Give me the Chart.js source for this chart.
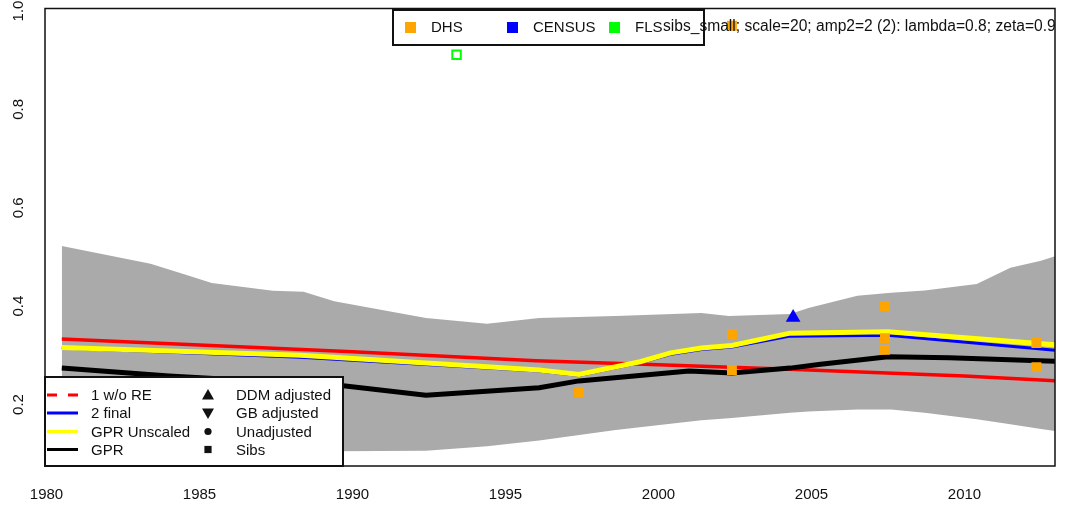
<!DOCTYPE html>
<html>
<head>
<meta charset="utf-8">
<script src="https://cdn.jsdelivr.net/npm/chart.js@4.4.0/dist/chart.umd.min.js"></script>
<style>
  html, body { margin: 0; padding: 0; background: #fff; }
  #wrap { width: 1066px; height: 508px; }
</style>
</head>
<body>
<div id="wrap"><canvas id="chart" width="1066" height="508"></canvas></div>
<script>
// values
const xTicks = [1980, 1985, 1990, 1995, 2000, 2005, 2010];
const yTicks = [0.2, 0.4, 0.6, 0.8, 1.0];

// uncertainty band
const bandYears = [1980.5, 1983.4, 1984.5, 1985.4, 1987.4, 1988.4, 1989.4, 1992.4, 1994.4, 1996.1, 1998.6,
  2001.4, 2002.3, 2004.3, 2004.9, 2006.5, 2007.6, 2008.7, 2010.4, 2011.5, 2012.5, 2013];
const bandUpper = [0.522, 0.486, 0.465, 0.447, 0.431, 0.429, 0.410, 0.376, 0.364, 0.376, 0.380,
  0.386, 0.380, 0.384, 0.396, 0.421, 0.427, 0.432, 0.445, 0.478, 0.492, 0.502];
const bandLower = [0.110, 0.108, 0.107, 0.106, 0.105, 0.105, 0.105, 0.106, 0.115, 0.127, 0.148,
  0.168, 0.172, 0.183, 0.186, 0.190, 0.190, 0.183, 0.170, 0.160, 0.150, 0.146];

// 1 w/o RE
const redYears = [1980.5, 1985, 1990, 1996, 2000, 2004.5, 2010, 2013];
const redVals = [0.333, 0.321, 0.307, 0.289, 0.281, 0.271, 0.258, 0.248];

// 2 final and GPR Unscaled
const gprYears = [1980.5, 1988.3, 1996.1, 1997.4, 1999.4, 2000.4, 2001.4, 2002.4, 2004.3, 2007.5, 2013];
const finalVals = [0.315, 0.296, 0.268, 0.259, 0.285, 0.302, 0.312, 0.317, 0.339, 0.341, 0.310];
const unscaledVals = [0.316, 0.300, 0.270, 0.261, 0.287, 0.305, 0.315, 0.320, 0.345, 0.348, 0.321];

// GPR
const blackYears = [1980.5, 1984, 1989.7, 1992.4, 1996.1, 1997.4, 2001, 2002.4, 2004.3, 2005.3, 2007.5, 2009.5, 2013];
const blackVals = [0.274, 0.258, 0.238, 0.219, 0.234, 0.248, 0.268, 0.264, 0.274, 0.282, 0.297, 0.295, 0.288];

// survey points
const dhsYears = [1997.4, 2002.4, 2002.4, 2002.4, 2007.4, 2007.4, 2007.4, 2012.35, 2012.35];
const dhsVals = [0.225, 0.343, 0.270, 0.970, 0.400, 0.335, 0.311, 0.325, 0.276];
const censusYears = [2004.4];
const censusVals = [0.377];
const flsYears = [1993.4];
const flsVals = [0.911];

const topLegend = ['DHS', 'CENSUS', 'FLS'];
const topLegendColors = ['#FFA500', '#0000FF', '#00FF00'];
const noteText = 'sibs_small; scale=20; amp2=2 (2): lambda=0.8; zeta=0.99';
const lineLegend = ['1 w/o RE', '2 final', 'GPR Unscaled', 'GPR'];
const lineLegendColors = ['#FF0000', '#0000FF', '#FFFF00', '#000000'];
const symbolLegend = ['DDM adjusted', 'GB adjusted', 'Unadjusted', 'Sibs'];

function pts(xs, ys) {
  return xs.map((x, i) => ({ x: x, y: ys[i] }));
}

const FAMILY = '"Liberation Sans", Arial, sans-serif';
const FONT = '15px ' + FAMILY;

function drawSymbol(ctx, kind, x, y) {
  ctx.beginPath();
  if (kind === 0) {        // triangle up
    ctx.moveTo(x, y - 6); ctx.lineTo(x + 6, y + 4.5); ctx.lineTo(x - 6, y + 4.5);
  } else if (kind === 1) { // triangle down
    ctx.moveTo(x, y + 6); ctx.lineTo(x + 6, y - 4.5); ctx.lineTo(x - 6, y - 4.5);
  } else if (kind === 2) { // circle
    ctx.arc(x, y, 3.6, 0, Math.PI * 2);
  } else {                 // square
    ctx.rect(x - 3.6, y - 3.6, 7.2, 7.2);
  }
  ctx.closePath();
  ctx.fill();
}

const decor = {
  id: 'decor',
  afterDatasetsDraw(chart) {
    const { ctx, chartArea: a, scales } = chart;
    ctx.save();
    ctx.font = FONT;
    ctx.fillStyle = '#111';

    // rotated y labels
    ctx.textAlign = 'center';
    ctx.textBaseline = 'middle';
    yTicks.forEach(v => {
      const py = scales.y.getPixelForValue(v);
      ctx.save();
      ctx.translate(19, py);
      ctx.rotate(-Math.PI / 2);
      ctx.fillText(v.toFixed(1), 0, 0);
      ctx.restore();
    });

    // plot box
    ctx.strokeStyle = '#111';
    ctx.lineWidth = 1.5;
    ctx.strokeRect(a.left, a.top, a.right - a.left, a.bottom - a.top);

    // top legend
    ctx.fillStyle = '#fff';
    ctx.fillRect(393, 10, 311, 35);
    ctx.lineWidth = 2;
    ctx.strokeRect(393, 10, 311, 35);
    const topX = [405, 507, 609];
    ctx.textAlign = 'left';
    topLegend.forEach((lab, i) => {
      ctx.fillStyle = topLegendColors[i];
      ctx.fillRect(topX[i], 22, 11, 11);
      ctx.fillStyle = '#111';
      ctx.fillText(lab, topX[i] + 26, 28);
    });

    // note text, clipped at the plot box
    ctx.save();
    ctx.beginPath();
    ctx.rect(a.left, a.top, a.right - a.left, a.bottom - a.top);
    ctx.clip();
    ctx.font = '15.6px ' + FAMILY;
    ctx.fillText(noteText, 663, 27);
    ctx.restore();

    // bottom-left legend
    ctx.fillStyle = '#fff';
    ctx.fillRect(a.left, 377, 298, a.bottom - 377);
    ctx.strokeStyle = '#111';
    ctx.lineWidth = 2;
    ctx.strokeRect(a.left, 377, 298, a.bottom - 377);
    const rows = [395, 413, 431.5, 449.5];
    lineLegend.forEach((lab, i) => {
      ctx.strokeStyle = lineLegendColors[i];
      ctx.lineWidth = 3;
      ctx.setLineDash(i === 0 ? [10, 11] : []);
      ctx.beginPath();
      ctx.moveTo(47, rows[i]);
      ctx.lineTo(78, rows[i]);
      ctx.stroke();
      ctx.setLineDash([]);
      ctx.fillStyle = '#111';
      ctx.fillText(lab, 91, rows[i] + 1);
      drawSymbol(ctx, i, 208, rows[i]);
      ctx.fillText(symbolLegend[i], 236, rows[i] + 1);
    });
    ctx.restore();
  }
};

const lineBase = { pointRadius: 0, tension: 0, fill: false, clip: 0 };

new Chart(document.getElementById('chart'), {
  type: 'line',
  data: {
    datasets: [
      { ...lineBase, label: 'DHS', data: pts(dhsYears, dhsVals), showLine: false,
        pointStyle: 'rect', pointRadius: 7, backgroundColor: '#FFA500', borderColor: '#FFA500', borderWidth: 0 },
      { ...lineBase, label: 'CENSUS', data: pts(censusYears, censusVals), showLine: false,
        pointStyle: 'triangle', pointRadius: 8.5, backgroundColor: '#0000FF', borderColor: '#0000FF', borderWidth: 0 },
      { ...lineBase, label: 'FLS', data: pts(flsYears, flsVals), showLine: false,
        pointStyle: 'rect', pointRadius: 6, backgroundColor: '#fff', borderColor: '#00FF00', borderWidth: 2 },
      { ...lineBase, label: 'GPR', data: pts(blackYears, blackVals), borderColor: '#000', borderWidth: 5 },
      { ...lineBase, label: 'GPR Unscaled', data: pts(gprYears, unscaledVals), borderColor: '#FFFF00', borderWidth: 5 },
      { ...lineBase, label: '2 final', data: pts(gprYears, finalVals), borderColor: '#0000FF', borderWidth: 3 },
      { ...lineBase, label: '1 w/o RE', data: pts(redYears, redVals), borderColor: '#FF0000', borderWidth: 3.5 },
      { ...lineBase, label: 'upper', data: pts(bandYears, bandUpper), borderColor: 'rgba(0,0,0,0)',
        borderWidth: 1, fill: '+1', backgroundColor: '#AAAAAA' },
      { ...lineBase, label: 'lower', data: pts(bandYears, bandLower), borderColor: 'rgba(0,0,0,0)', borderWidth: 1 }
    ]
  },
  options: {
    responsive: false,
    animation: false,
    devicePixelRatio: 1,
    layout: { padding: { top: 8, right: 11, left: 0, bottom: 0 } },
    plugins: { legend: { display: false }, tooltip: { enabled: false } },
    scales: {
      x: {
        type: 'linear', min: 1979.951, max: 2012.958,
        grid: { display: false, drawTicks: false }, border: { display: false },
        afterBuildTicks: s => { s.ticks = xTicks.map(v => ({ value: v })); },
        afterFit: s => { s.height = 42; },
        ticks: { padding: 20, color: '#111', font: { size: 15, family: FAMILY },
          callback: v => String(v), maxRotation: 0, autoSkip: false }
      },
      y: {
        min: 0.075, max: 1.005,
        grid: { display: false, drawTicks: false }, border: { display: false },
        ticks: { display: false },
        afterFit: s => { s.width = 45; }
      }
    }
  },
  plugins: [decor]
});
</script>
</body>
</html>
